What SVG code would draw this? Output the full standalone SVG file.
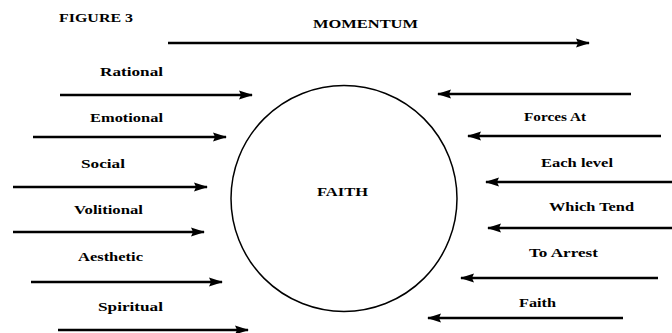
<svg xmlns="http://www.w3.org/2000/svg" width="672" height="333" viewBox="0 0 672 333">
<style>
text{font-family:"Liberation Serif","Times New Roman",serif;font-weight:bold;font-size:13px;fill:#000}
.c{stroke:#000;stroke-width:2.5;fill:none;marker-end:url(#ah)}
</style>
<defs>
<marker id="ah" markerUnits="userSpaceOnUse" markerWidth="14" markerHeight="10" refX="13" refY="5" orient="auto">
<path d="M0,0.5 L14,5 L0,9.5 L2,5 z" fill="#000"/>
</marker>
</defs>
<rect width="672" height="333" fill="#fff"/>
<g id="title"><text x="59" y="22" textLength="74" lengthAdjust="spacingAndGlyphs">FIGURE 3</text></g>
<g id="momentum"><text x="313" y="28" textLength="105" lengthAdjust="spacingAndGlyphs">MOMENTUM</text></g>
<g id="faith-circle">
<circle cx="344" cy="198.5" r="113" fill="none" stroke="#000" stroke-width="1.5"/>
<text x="317" y="196" textLength="51" lengthAdjust="spacingAndGlyphs">FAITH</text>
</g>
<g id="rational"><text x="100" y="76" textLength="63" lengthAdjust="spacingAndGlyphs">Rational</text></g>
<g id="emotional"><text x="90" y="122" textLength="73" lengthAdjust="spacingAndGlyphs">Emotional</text></g>
<g id="social"><text x="81" y="168" textLength="44" lengthAdjust="spacingAndGlyphs">Social</text></g>
<g id="volitional"><text x="74" y="214" textLength="69" lengthAdjust="spacingAndGlyphs">Volitional</text></g>
<g id="aesthetic"><text x="78" y="261" textLength="65" lengthAdjust="spacingAndGlyphs">Aesthetic</text></g>
<g id="spiritual"><text x="98" y="311" textLength="65" lengthAdjust="spacingAndGlyphs">Spiritual</text></g>
<g id="forces-at"><text x="524" y="121" textLength="62" lengthAdjust="spacingAndGlyphs">Forces At</text></g>
<g id="each-level"><text x="541" y="167" textLength="72" lengthAdjust="spacingAndGlyphs">Each level</text></g>
<g id="which-tend"><text x="549" y="211" textLength="85" lengthAdjust="spacingAndGlyphs">Which Tend</text></g>
<g id="to-arrest"><text x="529" y="257" textLength="69" lengthAdjust="spacingAndGlyphs">To Arrest</text></g>
<g id="faith-label"><text x="519" y="307" textLength="37" lengthAdjust="spacingAndGlyphs">Faith</text></g>
<g id="connectors">
<path class="c" d="M168,43 H589"/>
<path class="c" d="M60,95 H252"/>
<path class="c" d="M33,137 H226"/>
<path class="c" d="M13,187 H207"/>
<path class="c" d="M13,232 H204"/>
<path class="c" d="M31,282 H222"/>
<path class="c" d="M58,330 H248"/>
<path class="c" d="M631,94 H438"/>
<path class="c" d="M661,136 H468"/>
<path class="c" d="M672,182 H486"/>
<path class="c" d="M672,228 H488"/>
<path class="c" d="M658,278 H461"/>
<path class="c" d="M623,318 H428"/>
</g>
</svg>
